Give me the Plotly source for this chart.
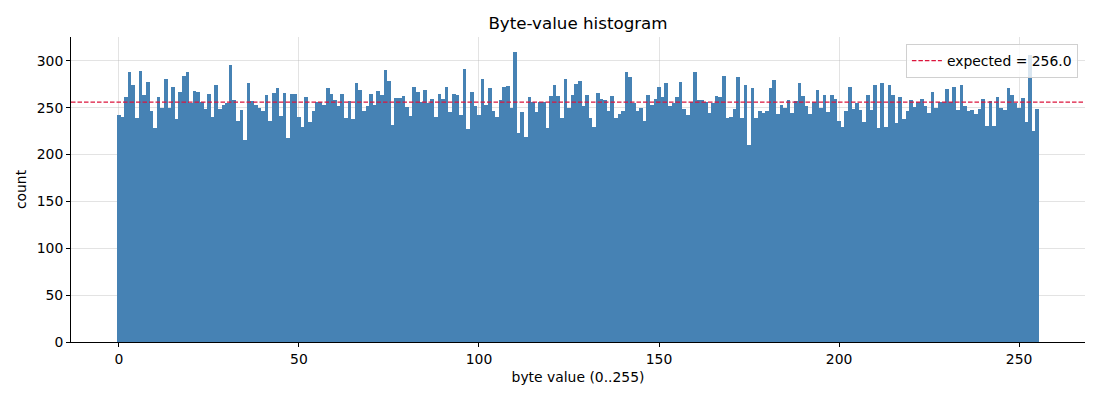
import plotly.graph_objects as go

byte_values = list(range(256))
counts = [
    242, 240, 261, 288, 274, 239, 289, 264, 278, 246,
    228, 261, 250, 281, 250, 272, 238, 267, 284, 288,
    255, 268, 267, 256, 249, 265, 240, 274, 249, 253,
    255, 296, 258, 236, 248, 216, 276, 257, 253, 250,
    247, 264, 236, 266, 271, 241, 266, 218, 265, 265,
    240, 229, 261, 235, 246, 256, 256, 253, 271, 265,
    258, 252, 265, 239, 257, 238, 276, 269, 246, 252,
    265, 253, 268, 264, 290, 279, 232, 260, 260, 263,
    251, 241, 272, 267, 256, 269, 255, 259, 240, 265,
    259, 272, 245, 265, 264, 242, 291, 227, 267, 252,
    242, 281, 253, 271, 246, 240, 258, 272, 273, 250,
    309, 223, 245, 219, 261, 256, 245, 256, 256, 228,
    263, 274, 263, 239, 281, 250, 264, 275, 279, 252,
    264, 239, 229, 266, 259, 258, 246, 263, 239, 243,
    246, 288, 283, 255, 247, 250, 236, 264, 253, 259,
    272, 262, 276, 252, 255, 261, 278, 249, 242, 256,
    288, 258, 258, 256, 244, 255, 263, 261, 284, 239,
    240, 249, 283, 239, 274, 210, 271, 239, 246, 244,
    246, 271, 280, 243, 253, 250, 258, 244, 257, 276,
    263, 252, 243, 256, 269, 250, 264, 245, 264, 259,
    236, 229, 247, 272, 249, 255, 248, 235, 264, 248,
    274, 228, 276, 229, 274, 264, 234, 261, 238, 247,
    258, 251, 256, 259, 252, 244, 267, 250, 256, 256,
    270, 256, 272, 248, 274, 252, 247, 248, 243, 249,
    259, 230, 257, 231, 262, 250, 248, 271, 264, 255,
    250, 260, 235, 306, 225, 249,
]
expected = 65536 / 256
x_ticks = [0, 50, 100, 150, 200, 250]
y_ticks = [0, 50, 100, 150, 200, 250, 300]

x_range = [-13.3, 268.3]
y_range = [0, 325.5]

fig = go.Figure()
fig.add_trace(go.Bar(x=byte_values, y=counts, width=1.0,
                     marker=dict(color="#4682B4", line=dict(width=0)),
                     showlegend=False))
fig.add_trace(go.Scatter(x=x_range, y=[expected, expected], mode="lines",
                         line=dict(color="#DC143C", width=1.3, dash="4.5px,2px"),
                         name="expected = %.1f" % expected))

# page body adds 8px, so the figure is a bit smaller than the window
fig.update_layout(
    width=1092, height=392,
    paper_bgcolor="white", plot_bgcolor="white",
    font=dict(family="DejaVu Sans", size=14, color="black"),
    margin=dict(l=63, r=15, t=29, b=58),
    bargap=0,
    title=dict(text="Byte-value histogram", x=0.5, xanchor="center",
               xref="paper", y=1 - 15 / 392, yanchor="middle",
               font=dict(size=16.7)),
    legend=dict(x=0.993, y=0.977, xanchor="right", yanchor="top",
                bgcolor="rgba(255,255,255,0.8)", bordercolor="#d0d0d0",
                borderwidth=1, font=dict(size=13.9)),
)
fig.update_xaxes(range=x_range, tickvals=x_ticks, showgrid=True,
                 gridcolor="rgba(176,176,176,0.35)", gridwidth=1,
                 showline=True, linecolor="black", linewidth=1,
                 ticks="outside", ticklen=4, tickcolor="black",
                 tickfont=dict(size=13.9),
                 zeroline=False, layer="above traces",
                 title=dict(text="byte value (0..255)", standoff=6,
                            font=dict(size=13.9)))
fig.update_yaxes(range=y_range, tickvals=y_ticks, showgrid=True,
                 gridcolor="rgba(176,176,176,0.35)", gridwidth=1,
                 showline=True, linecolor="black", linewidth=1,
                 ticks="outside", ticklen=4, tickcolor="black",
                 tickfont=dict(size=13.9),
                 zeroline=False, layer="above traces",
                 title=dict(text="count", standoff=6,
                            font=dict(size=13.9)))

fig.write_html("out.html")
